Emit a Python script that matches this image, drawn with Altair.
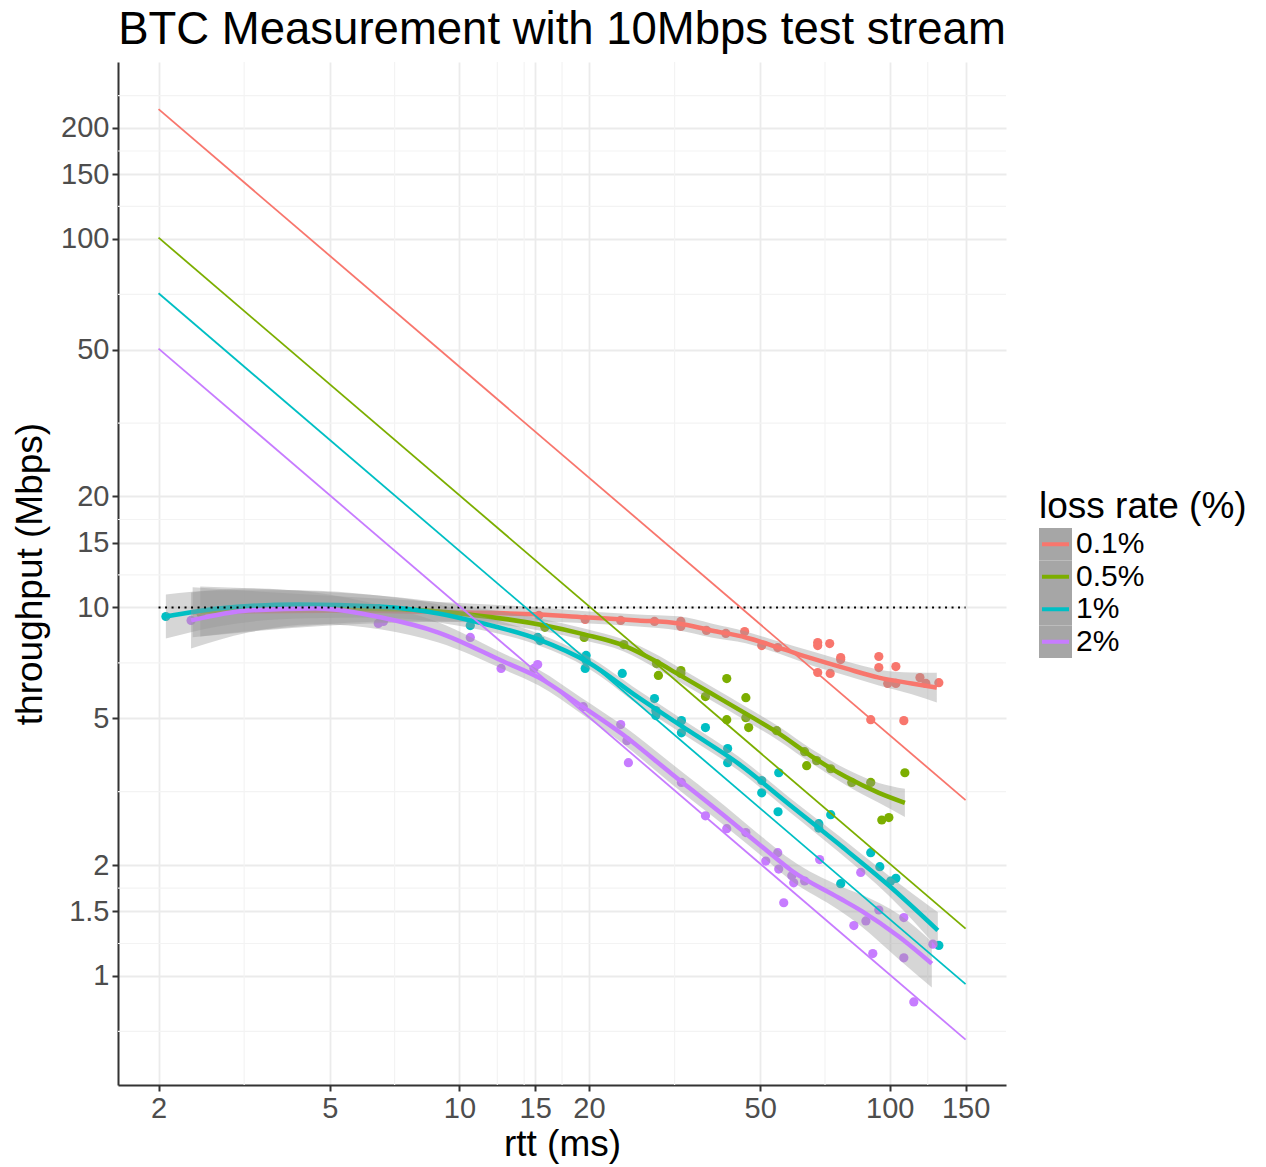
import altair as alt
import pandas as pd

FONT = "Liberation Sans"
LEVELS = ["0.1%", "0.5%", "1%", "2%"]
COLORS = ["#F8766D", "#7CAE00", "#00BFC4", "#C77CFF"]

X_TICKS = [2, 5, 10, 15, 20, 50, 100, 150]
Y_TICKS = [1, 1.5, 2, 5, 10, 15, 20, 50, 100, 150, 200]
X_MINOR = [3.162, 7.071, 12.25, 14.14, 17.32, 31.62, 70.71, 122.5]
Y_MINOR = [0.707, 1.225, 1.732, 3.162, 7.071, 12.25, 17.32, 31.62, 70.71, 122.5, 173.2, 244.9]

# ---- measured throughput points (rtt ms, Mbps) ----
pts_01_rtt = [15.3, 19.6, 23.7, 28.4, 32.7, 32.7, 37.5, 41.6, 46.0, 50.4, 54.9, 68.0, 68.0, 72.5,
              76.9, 76.9, 68.0, 72.7, 94.3, 94.3, 103.3, 98.9, 103.3, 117.5, 121.3, 130.0, 90.3, 107.8]
pts_01_tput = [9.51, 9.28, 9.22, 9.16, 9.16, 8.88, 8.66, 8.50, 8.60, 7.88, 7.78, 8.03, 7.88, 7.98,
               7.31, 7.22, 6.66, 6.62, 7.36, 6.87, 6.91, 6.22, 6.22, 6.45, 6.22, 6.25, 4.96, 4.93]

pts_05_rtt = [2.51, 15.8, 19.5, 24.1, 28.7, 29.0, 32.7, 32.7, 37.3, 41.8, 46.3, 41.8, 46.3, 47.0,
              54.6, 63.4, 64.1, 67.6, 72.9, 81.6, 90.3, 108.4, 95.8, 99.5]
pts_05_tput = [9.63, 8.83, 8.29, 7.93, 7.04, 6.54, 6.74, 6.62, 5.73, 6.41, 5.69, 4.96, 5.02, 4.72,
               4.63, 4.06, 3.72, 3.84, 3.65, 3.35, 3.35, 3.56, 2.65, 2.69]

pts_1_rtt = [2.08, 10.6, 15.2, 15.4, 19.7, 19.7, 19.6, 23.9, 28.4, 28.6, 28.6, 32.8, 32.8, 37.3,
             42.0, 42.0, 50.4, 50.4, 55.2, 55.0, 72.9, 68.4, 68.4, 76.9, 90.3, 94.8, 100.5, 103.3, 130.0]
pts_1_tput = [9.45, 8.93, 8.29, 8.13, 7.41, 7.18, 6.83, 6.62, 5.66, 5.25, 5.09, 4.93, 4.57, 4.72,
              4.14, 3.79, 3.39, 3.14, 3.56, 2.79, 2.74, 2.59, 2.52, 1.78, 2.16, 1.98, 1.81, 1.84, 1.21]

pts_2_rtt = [2.38, 6.48, 6.66, 10.6, 12.5, 14.9, 15.2, 19.4, 23.7, 24.5, 24.7, 32.8, 37.3, 41.8,
             46.3, 51.5, 54.9, 55.2, 59.2, 59.8, 63.4, 56.7, 68.7, 85.6, 82.5, 88.0, 94.3, 107.8,
             91.3, 107.8, 113.7, 125.9]
pts_2_tput = [9.22, 9.05, 9.16, 8.29, 6.83, 6.83, 7.00, 5.38, 4.81, 4.35, 3.79, 3.35, 2.72, 2.51,
              2.45, 2.05, 2.16, 1.95, 1.87, 1.79, 1.81, 1.58, 2.07, 1.91, 1.37, 1.41, 1.51, 1.44,
              1.15, 1.12, 0.85, 1.22]

# ---- smoothed fits with confidence band ----
fit_01_rtt = [2.4, 5.0, 10.5, 15.3, 20.0, 26.0, 32.3, 38.5, 46.3, 55.2, 65.9, 79.0, 94.3, 112.5, 128.6]
fit_01 = [9.70, 9.80, 9.69, 9.57, 9.39, 9.22, 9.05, 8.66, 8.29, 7.78, 7.27, 6.83, 6.45, 6.22, 6.06]
fit_01_lo = [8.30, 8.93, 9.16, 9.16, 9.05, 8.88, 8.66, 8.29, 7.99, 7.50, 6.96, 6.54, 6.14, 5.81, 5.52]
fit_01_hi = [11.34, 10.76, 10.25, 10.00, 9.75, 9.57, 9.46, 9.05, 8.61, 8.08, 7.60, 7.14, 6.78, 6.66, 6.65]

fit_05_rtt = [2.5, 4.22, 7.21, 10.5, 15.8, 19.5, 24.1, 28.7, 32.3, 38.5, 46.3, 55.2, 65.9, 79.0, 94.3, 108.4]
fit_05 = [9.75, 9.94, 9.88, 9.57, 8.93, 8.45, 7.88, 7.13, 6.58, 5.84, 5.15, 4.55, 3.94, 3.47, 3.14, 2.95]
fit_05_lo = [8.34, 8.88, 9.17, 9.11, 8.60, 8.14, 7.59, 6.82, 6.30, 5.59, 4.93, 4.35, 3.77, 3.30, 2.95, 2.70]
fit_05_hi = [11.40, 11.12, 10.65, 10.06, 9.27, 8.77, 8.18, 7.45, 6.88, 6.10, 5.38, 4.75, 4.12, 3.65, 3.34, 3.22]

fit_1_rtt = [2.08, 2.75, 4.22, 6.48, 8.94, 11.1, 15.3, 19.95, 26.1, 34.1, 44.5, 58.2, 76.1, 99.5, 129.3]
fit_1 = [9.45, 9.94, 10.19, 10.06, 9.63, 9.10, 8.18, 7.09, 5.69, 4.63, 3.77, 2.93, 2.28, 1.76, 1.33]
fit_1_lo = [8.23, 8.88, 9.33, 9.39, 9.10, 8.71, 7.88, 6.83, 5.44, 4.43, 3.61, 2.80, 2.17, 1.65, 1.19]
fit_1_hi = [10.85, 11.12, 11.13, 10.77, 10.19, 9.51, 8.49, 7.36, 5.95, 4.84, 3.94, 3.06, 2.40, 1.87, 1.49]

fit_2_rtt = [2.38, 3.23, 4.63, 6.59, 8.94, 12.8, 15.3, 19.2, 23.8, 31.1, 41.6, 51.5, 59.2, 76.1, 86.1, 104.9, 125.2]
fit_2 = [9.22, 9.81, 9.94, 9.39, 8.55, 7.09, 6.45, 5.41, 4.55, 3.54, 2.70, 2.20, 1.93, 1.63, 1.50, 1.28, 1.08]
fit_2_lo = [7.74, 8.55, 9.00, 8.71, 8.03, 6.75, 6.14, 5.15, 4.30, 3.32, 2.54, 2.07, 1.81, 1.51, 1.36, 1.11, 0.93]
fit_2_hi = [10.98, 11.26, 10.98, 10.12, 9.11, 7.45, 6.78, 5.69, 4.81, 3.77, 2.88, 2.34, 2.06, 1.76, 1.66, 1.47, 1.24]

# ---- model lines (end points) and the 10 Mbps reference ----
model_rtt = [2, 150]
model_01 = [225.0, 3.0]
model_05 = [100.8, 1.344]
model_1 = [71.2, 0.95]
model_2 = [50.4, 0.672]
ref_rtt = [2, 150]
ref_tput = [10, 10]

# ---- tables ----
pts = pd.concat([
    pd.DataFrame({"rtt": r, "tput": t, "loss": lv})
    for r, t, lv in [(pts_01_rtt, pts_01_tput, "0.1%"), (pts_05_rtt, pts_05_tput, "0.5%"),
                     (pts_1_rtt, pts_1_tput, "1%"), (pts_2_rtt, pts_2_tput, "2%")]
])
fits = {
    "0.1%": pd.DataFrame({"rtt": fit_01_rtt, "tput": fit_01, "lo": fit_01_lo, "hi": fit_01_hi, "loss": "0.1%"}),
    "0.5%": pd.DataFrame({"rtt": fit_05_rtt, "tput": fit_05, "lo": fit_05_lo, "hi": fit_05_hi, "loss": "0.5%"}),
    "1%": pd.DataFrame({"rtt": fit_1_rtt, "tput": fit_1, "lo": fit_1_lo, "hi": fit_1_hi, "loss": "1%"}),
    "2%": pd.DataFrame({"rtt": fit_2_rtt, "tput": fit_2, "lo": fit_2_lo, "hi": fit_2_hi, "loss": "2%"}),
}
models = pd.concat([
    pd.DataFrame({"rtt": model_rtt, "tput": m, "loss": lv})
    for m, lv in [(model_01, "0.1%"), (model_05, "0.5%"), (model_1, "1%"), (model_2, "2%")]
])
ref = pd.DataFrame({"rtt": ref_rtt, "tput": ref_tput})
xminor = pd.DataFrame({"rtt": X_MINOR})
yminor = pd.DataFrame({"tput": Y_MINOR})

# ---- scales / axes ----
xscale = alt.Scale(type="log", domain=[1.61, 186.2], nice=False, zero=False)
yscale = alt.Scale(type="log", domain=[0.506, 302], nice=False, zero=False)
axis_common = dict(
    grid=True, gridColor="#EBEBEB", gridWidth=1.8,
    domainColor="#333333", domainWidth=2, tickColor="#333333", tickWidth=2, tickSize=6,
    labelFont=FONT, labelFontSize=29, labelColor="#4D4D4D", labelPadding=3,
    titleFont=FONT, titleFontSize=37, titleFontWeight="normal", titleColor="black",
    format="~g", labelOverlap=False, labelFlush=False,
)
xaxis = alt.Axis(values=X_TICKS, titlePadding=3, **axis_common)
yaxis = alt.Axis(values=Y_TICKS, titlePadding=11, **axis_common)


def X(field="rtt"):
    return alt.X(f"{field}:Q", scale=xscale, axis=xaxis, title="rtt (ms)")


def Y(field="tput"):
    return alt.Y(f"{field}:Q", scale=yscale, axis=yaxis, title="throughput (Mbps)")


color = alt.Color("loss:N", scale=alt.Scale(domain=LEVELS, range=COLORS), legend=None)

layers = [
    alt.Chart(xminor).mark_rule(color="#F3F3F3", strokeWidth=1.2).encode(x=X()),
    alt.Chart(yminor).mark_rule(color="#F3F3F3", strokeWidth=1.2).encode(y=Y()),
    alt.Chart(pts).mark_circle(size=85, opacity=1).encode(x=X(), y=Y(), color=color),
]
for lv in LEVELS:
    d = fits[lv]
    layers.append(
        alt.Chart(d).mark_area(color="#999999", opacity=0.4, interpolate="monotone")
        .encode(x=X(), y=Y("lo"), y2="hi:Q")
    )
    layers.append(
        alt.Chart(d).mark_line(strokeWidth=4.5, interpolate="monotone")
        .encode(x=X(), y=Y(), color=color)
    )
layers.append(
    alt.Chart(ref).mark_line(color="black", strokeWidth=2, strokeDash=[2, 4.5])
    .encode(x=X(), y=Y())
)
layers.append(
    alt.Chart(models).mark_line(strokeWidth=1.8).encode(x=X(), y=Y(), color=color, detail="loss:N")
)

main = alt.layer(*layers).properties(
    width=888, height=1023,
    title=alt.Title("BTC Measurement with 10Mbps test stream", font=FONT, fontSize=45.5,
                    fontWeight="normal", color="black", anchor="middle", frame="group", offset=8),
)

# ---- legend panel ----
leg = pd.DataFrame({"loss": LEVELS})
leg_title = pd.DataFrame({"loss": ["0.1%"], "label": ["loss rate (%)"]})
ly = alt.Y("loss:N", scale=alt.Scale(domain=LEVELS, range=[466, 596], paddingInner=0, paddingOuter=0), axis=None)
legend = alt.layer(
    alt.Chart(leg).mark_rect(color="#A6A6A6").encode(x=alt.value(0), x2=alt.value(33), y=ly),
    alt.Chart(leg).mark_rule(strokeWidth=4).encode(x=alt.value(3), x2=alt.value(30), y=ly, color=color),
    alt.Chart(leg).mark_text(align="left", baseline="middle", font=FONT, fontSize=30, color="black")
    .encode(x=alt.value(37), y=ly, text="loss:N"),
    alt.Chart(leg_title).mark_text(align="left", baseline="middle", font=FONT, fontSize=37, color="black", dy=-37)
    .encode(x=alt.value(0), y=ly, text="label:N"),
).properties(width=215, height=1023)

chart = (
    alt.hconcat(main, legend, spacing=33, bounds="flush")
    .resolve_scale(x="independent", y="independent", color="shared")
    .properties(padding={"left": 11, "top": 7, "right": 5, "bottom": 5}, background="white")
    .configure_view(stroke=None)
)

chart.save("out.html", embed_options={"renderer": "svg", "actions": False})
